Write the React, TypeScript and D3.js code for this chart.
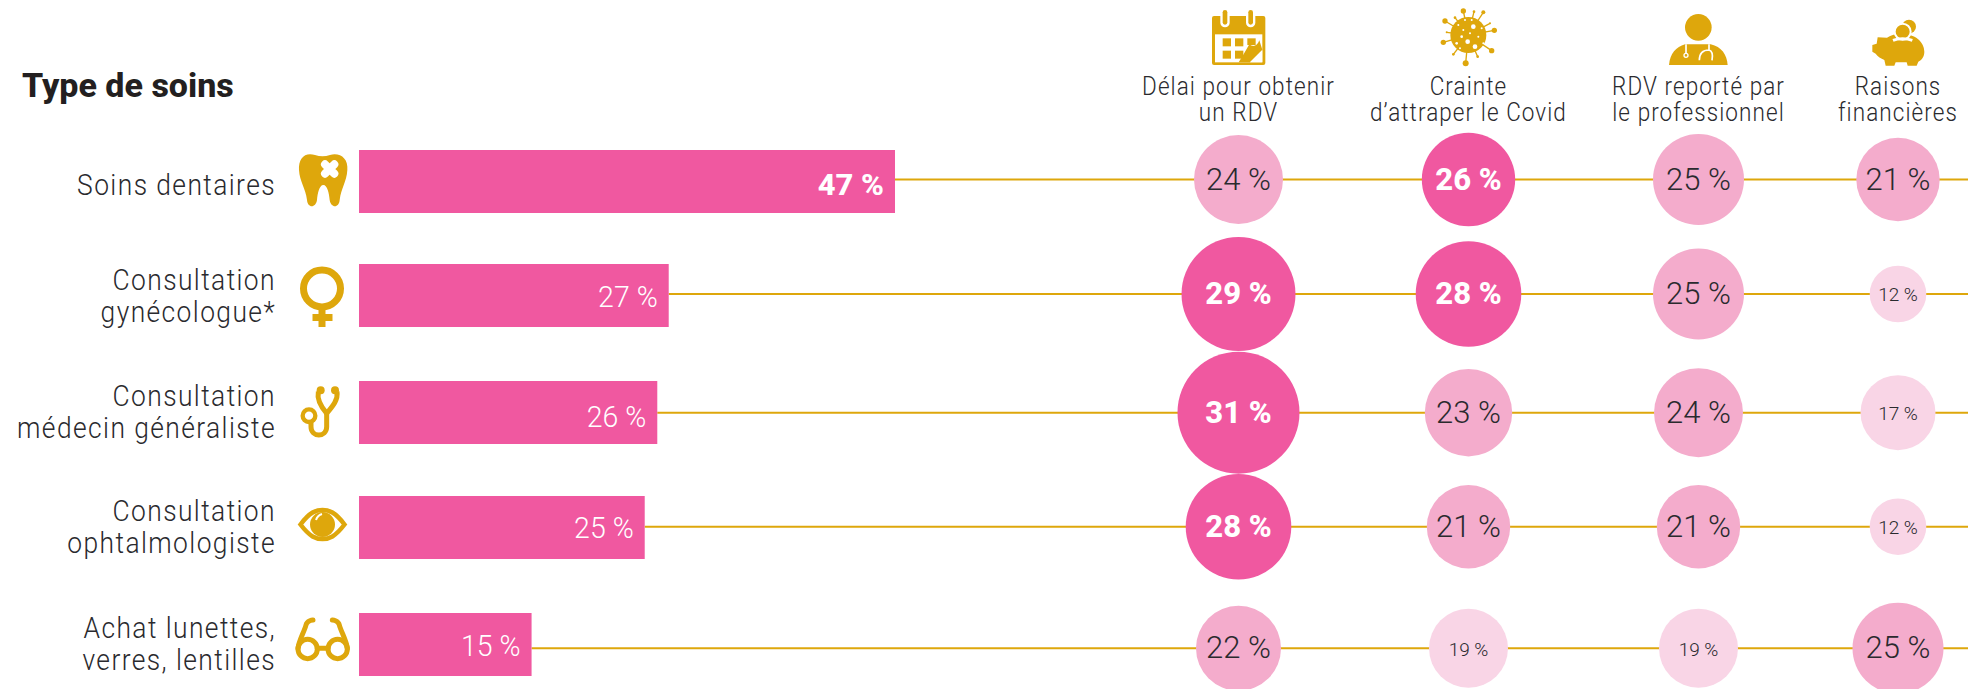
import React from "react";
import * as d3 from "d3";

const categories = ["Soins dentaires", "Consultation gynécologue*", "Consultation médecin généraliste", "Consultation ophtalmologiste", "Achat lunettes, verres, lentilles"];
const categoryLines = [["Soins dentaires"], ["Consultation", "gynécologue*"], ["Consultation", "médecin généraliste"], ["Consultation", "ophtalmologiste"], ["Achat lunettes,", "verres, lentilles"]];
const overall = [46.9, 27.1, 26.1, 25.0, 15.1];
const delai = [24, 29, 31, 28, 22];
const crainte = [26, 28, 23, 21, 19];
const reporte = [25, 25, 24, 21, 19];
const financier = [21, 12, 17, 12, 25];
const columnHeads = [["Délai pour obtenir", "un RDV"], ["Crainte", "d’attraper le Covid"], ["RDV reporté par", "le professionnel"], ["Raisons", "financières"]];
const columns = [delai, crainte, reporte, financier];

const W = 1968, H = 689;
const GOLD = "#DEA70C", PINK = "#F058A0", MID = "#F4ACCC", LIGHT = "#F9D5E6", INK = "#2A2A2E";
const FONT = "Roboto, sans-serif";

const x = d3.scaleLinear().domain([0, 46.9]).range([359, 895]);
const barTop = d3.scaleOrdinal<string, number>().domain(categories).range([150, 264, 381, 496, 613]);
const lineY = d3.scaleOrdinal<string, number>().domain(categories).range([179.5, 294, 412.7, 526.7, 648.3]);
const labelY = d3.scaleOrdinal<string, number>().domain(categories).range([195, 290, 406, 521, 638]);
const barLabelY = d3.scaleOrdinal<string, number>().domain(categories).range([195, 306.7, 427, 538, 655.7]);
const colX = d3.scalePoint<number>().domain([0, 1, 2]).range([1238.5, 1698.5]);
const columnX = (i: number) => (i < 3 ? (colX(i) as number) : 1898);
const radius = d3.scaleLinear().domain([12, 17, 19, 21, 22, 23, 24, 25, 26, 28, 29, 31]).range([28.3, 37.5, 39.5, 41.7, 42.5, 43.7, 44.5, 45.5, 46.7, 52.8, 57, 61]);
const fill = d3.scaleThreshold<number, string>().domain([20, 26]).range([LIGHT, MID, PINK]);
const pct = d3.format(".0f");
const BAR_H = 63;

function T({ x, y, s, size, weight = 300, color = INK, anchor = "middle", sx = 1, ls = 0 }: any) {
  return (
    <text transform={`translate(${x},${y}) scale(${sx},1)`} fontFamily={FONT} fontSize={size} fontWeight={weight} fill={color} textAnchor={anchor} letterSpacing={ls}>
      {s}
    </text>
  );
}

const Icon = ({ ox, oy, children }: any) => <g transform={`translate(${ox},${oy}) scale(${1 / 3})`}>{children}</g>;

const virusSpikes = [[100, 18, 8], [45, 48, 8], [40, 112, 8], [107, 175, 9], [185, 137, 8], [193, 76, 8], [160, 22, 6], [132, 20, 4], [75, 38, 4], [50, 82, 3], [70, 148, 4], [143, 155, 4], [180, 55, 3]];
const virusDots = [[130, 65, 7], [113, 110, 7], [135, 125, 7], [105, 45, 3], [85, 60, 3], [145, 95, 3], [95, 95, 4], [80, 115, 4], [155, 70, 3], [120, 85, 3], [160, 115, 3], [100, 75, 3], [160, 130, 2], [125, 45, 3], [90, 130, 3]];

function Icons() {
  return (
    <g>
      {/* calendar */}
      <Icon ox={1200} oy={5}>
        <rect x={36} y={33} width={160} height={147} rx={6} fill={GOLD} />
        <rect x={45} y={88} width={142} height={84} fill="#fff" />
        {[75, 152].map((c) => (
          <g key={c}>
            <rect x={c - 14} y={15} width={28} height={52} rx={14} fill="#fff" />
            <rect x={c - 7} y={15} width={14} height={44} rx={7} fill={GOLD} />
          </g>
        ))}
        {[68, 105].map((a) => [100, 137].map((b) => <rect key={a + "-" + b} x={a} y={b} width={25} height={24} fill={GOLD} />))}
        <rect x={142} y={100} width={25} height={20} fill={GOLD} />
        <path d="M116 172C130 150 140 132 148 118C160 128 172 122 178 106L187 134L150 172Z" fill={GOLD} />
        <path d="M150 172L187 136V172Z" fill="#fff" />
      </Icon>
      {/* virus */}
      <Icon ox={1430} oy={5}>
        {virusSpikes.map(([a, b, r], i) => (
          <g key={i}>
            <line x1={115} y1={90} x2={a} y2={b} stroke={GOLD} strokeWidth={4} />
            <circle cx={a} cy={b} r={r} fill={GOLD} />
          </g>
        ))}
        <circle cx={115} cy={90} r={54} fill={GOLD} />
        {virusDots.map(([a, b, r], i) => <circle key={i} cx={a} cy={b} r={r} fill="#fff" />)}
      </Icon>
      {/* doctor */}
      <Icon ox={1660} oy={5}>
        <circle cx={115} cy={67} r={40} fill={GOLD} />
        <path d="M27 180C30 145 48 126 75 118L152 118C185 126 200 148 203 180Z" fill={GOLD} />
        <path d="M78 118V148M147 118V135M147 135C125 135 118 150 118 166M147 135C158 138 158 155 156 166" fill="none" stroke="#fff" strokeWidth={5} />
        <circle cx={78} cy={151} r={6} fill={GOLD} stroke="#fff" strokeWidth={4} />
      </Icon>
      {/* piggy bank */}
      <Icon ox={1865} oy={5}>
        <circle cx={132} cy={65} r={21} fill={GOLD} />
        <path d="M38 97L66 98C78 90 92 86 108 86C150 86 178 110 178 140C178 155 170 165 160 170L155 182H128L125 172H92L88 182H62L58 165C48 160 38 155 32 146L22 140V120L35 116Z" fill={GOLD} />
        <circle cx={113} cy={80} r={24} fill={GOLD} stroke="#fff" strokeWidth={6} />
        <path d="M84 106C100 100 125 100 142 106" fill="none" stroke="#fff" strokeWidth={9} />
      </Icon>
      {/* tooth */}
      <Icon ox={285} oy={145}>
        <path d="M90 30C60 20 40 40 42 75C44 110 62 130 66 165C68 190 92 190 96 165C98 145 103 120 115 120C127 120 132 145 134 165C138 190 162 190 164 165C168 130 185 110 187 75C190 40 165 22 135 30C120 35 105 35 90 30Z" fill={GOLD} />
        <path d="M120 58L148 86M148 58L120 86" stroke="#fff" strokeWidth={24} strokeLinecap="round" />
      </Icon>
      {/* female */}
      <g fill="none" stroke={GOLD}>
        <circle cx={322} cy={288.5} r={18.5} strokeWidth={7} />
        <path d="M322 308V327" strokeWidth={7} />
        <path d="M312.5 317.5H332.5" strokeWidth={7} />
      </g>
      {/* stethoscope */}
      <Icon ox={285} oy={375}>
        <g fill="none" stroke={GOLD} strokeWidth={15}>
          <path d="M100 50C95 75 108 95 125 115C142 95 160 75 156 50" />
          <path d="M125 110V155C125 188 78 188 78 155V142" />
          <circle cx={72} cy={122} r={19} strokeWidth={13} />
        </g>
        <circle cx={107} cy={46} r={12} fill={GOLD} />
        <circle cx={150} cy={46} r={12} fill={GOLD} />
      </Icon>
      {/* eye */}
      <g>
        <path d="M300.5 524.5C310 512 316 510 322.5 510C329 510 335 512 344.5 524.5C335 537 329 539 322.5 539C316 539 310 537 300.5 524.5Z" fill="none" stroke={GOLD} strokeWidth={4.5} />
        <circle cx={322.5} cy={524.5} r={12.5} fill={GOLD} />
        <path d="M316 520C317 517 319 515 322 514" fill="none" stroke="#fff" strokeWidth={2} />
      </g>
      {/* glasses */}
      <Icon ox={285} oy={610}>
        <g fill="none" stroke={GOLD} strokeWidth={15} strokeLinecap="round">
          <circle cx={68} cy={117} r={29} />
          <circle cx={158} cy={117} r={29} />
          <path d="M97 115H129" />
          <path d="M39 115C42 90 58 65 63 45C66 32 84 30 84 30" />
          <path d="M187 115C184 90 168 65 163 45C160 32 142 30 142 30" />
        </g>
      </Icon>
    </g>
  );
}

export default function App() {
  return (
    <svg width={W} height={H} viewBox={`0 0 ${W} ${H}`} style={{ position: "absolute", left: 0, top: 0, display: "block", background: "#fff" }}>
      <T x={22} y={97} s="Type de soins" size={34} weight={800} anchor="start" color="#231F20" sx={1} />

      {columnHeads.map((h, i) =>
        h.map((line, j) => <T key={i + "-" + j} x={columnX(i)} y={95 + j * 25.7} s={line} size={25} sx={0.9} ls={1.2} />)
      )}

      {categories.map((c, r) => {
        const v = overall[r];
        const top = barTop(c);
        const xe = x(v);
        return (
          <g key={c}>
            <line x1={xe} x2={W} y1={lineY(c)} y2={lineY(c)} stroke={GOLD} strokeWidth={2} />
            <rect x={x(0)} y={top} width={xe - x(0)} height={BAR_H} fill={PINK} />
            <T x={xe - 11} y={barLabelY(c)} s={`${pct(v)} %`} size={30} weight={v > 40 ? 800 : 300} color="#fff" anchor="end" sx={v > 40 ? 1.03 : 0.95} />
            {categoryLines[r].map((l, j) => (
              <T key={l} x={276} y={labelY(c) + j * 32} s={l} size={30} anchor="end" sx={0.88} ls={1.6} />
            ))}
          </g>
        );
      })}

      {columns.map((col, i) =>
        col.map((v, r) => {
          const cy = lineY(categories[r]);
          const big = v >= 26;
          const small = v < 20;
          return (
            <g key={i + "-" + r}>
              <circle cx={columnX(i)} cy={cy} r={radius(v)} fill={fill(v)} />
              <T x={columnX(i)} y={cy + (small ? 7.3 : 10)} s={`${v} %`} size={small ? 19 : 31} weight={big ? 800 : 300} color={big ? "#fff" : INK} />
            </g>
          );
        })
      )}

      <Icons />
    </svg>
  );
}
